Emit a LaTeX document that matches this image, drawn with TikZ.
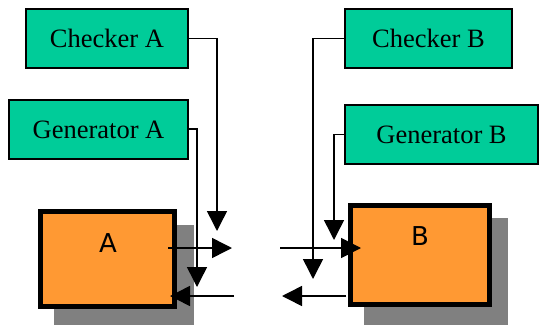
\documentclass[tikz,border=0pt]{standalone}
\usepackage{fontspec}
\setmainfont{Liberation Serif}
\newfontfamily\labelsans{DejaVu Sans}
\usetikzlibrary{arrows.meta}
\definecolor{testgreen}{HTML}{00CC99}
\definecolor{devorange}{HTML}{FF9933}
\definecolor{shadowgray}{HTML}{808080}
\tikzset{
  toolbox/.style={draw=black, line width=2pt, fill=testgreen, minimum height=59pt,
    inner sep=0pt, font=\fontsize{26.5}{28}\selectfont},
  devbox/.style={draw=black, line width=5pt, fill=devorange, inner sep=0pt},
  devshadow/.style={fill=shadowgray, draw=none},
  link/.style={line width=1.5pt, -{Triangle[length=20pt,width=20pt]}},
  devlabel/.style={font=\labelsans\fontsize{26}{28}\selectfont, inner sep=0pt}
}
\begin{document}
\begin{tikzpicture}[x=1pt,y=-1pt]
\useasboundingbox (0,0) rectangle (540,324);

% tester blocks
\node[toolbox, minimum width=162pt] (ca) at (107,38.5) {Checker A};
\node[toolbox, minimum width=179pt] (ga) at (98.5,129.5) {Generator A};
\node[toolbox, minimum width=167pt] (cb) at (428.5,38.5) {Checker B};
\node[toolbox, minimum width=193pt] (gb) at (441.5,134.5) {Generator B};

% device shadows and blocks
\fill[devshadow] (54,225) rectangle (194,325);
\fill[devshadow] (364,218) rectangle (508,325);
\node[devbox, minimum width=134pt, minimum height=95pt] (a) at (107.5,259) {};
\node[devbox, minimum width=139pt, minimum height=99pt] (b) at (420,255) {};
\node[devlabel] (la) at (108,243) {A};
\node[devlabel] (lb) at (420,236) {B};

% connector end points
\coordinate (caend) at (217,231);
\coordinate (gaend) at (197,287);
\coordinate (cbend) at (313,279);
\coordinate (gbend) at (334,240);
\coordinate (aoutS) at (168,248);
\coordinate (aoutE) at (232,248);
\coordinate (ainS) at (234,296);
\coordinate (ainE) at (170,296);
\coordinate (binS) at (280,248);
\coordinate (binE) at (361,248);
\coordinate (boutS) at (346,296);
\coordinate (boutE) at (282,296);

% tester connectors
\draw[link] (ca.east) -| (caend);
\draw[link] (ga.east |- 0,129) -| (gaend);
\draw[link] (cb.west) -| (cbend);
\draw[link] (gb.west) -| (gbend);

% data links
\draw[link] (aoutS) -- (aoutE);
\draw[link] (ainS) -- (ainE);
\draw[link] (binS) -- (binE);
\draw[link] (boutS) -- (boutE);
\end{tikzpicture}
\end{document}
